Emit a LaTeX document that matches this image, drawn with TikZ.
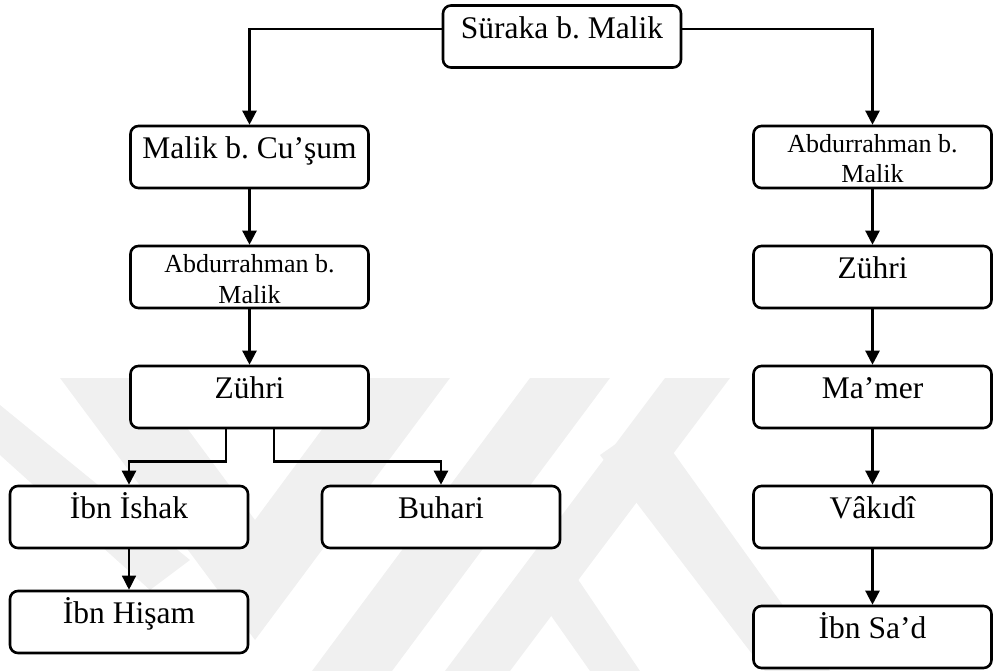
\documentclass[tikz,border=0pt]{standalone}
\usepackage{fontspec}
\setmainfont{Liberation Serif}
\usetikzlibrary{arrows.meta}
\frenchspacing

\tikzset{
  chainbox/.style={draw=black, fill=white, line width=2.6pt, rounded corners=8pt,
    minimum width=238pt, minimum height=62pt, inner sep=0pt},
  bigtext/.style={font=\fontsize{31.5}{36}\selectfont, anchor=base, inner sep=0pt},
  smalltext/.style={font=\fontsize{26}{30}\selectfont, anchor=base, inner sep=0pt},
  link/.style={line width=2.4pt, -{Triangle[width=14pt,length=14pt]}},
  thinlink/.style={line width=1.4pt, -{Triangle[width=14pt,length=14pt]}},
  watermark/.style={fill=black!6, draw=none}
}

\begin{document}
\begin{tikzpicture}[x=1pt, y=-1pt]
\useasboundingbox (0,0) rectangle (993,671);

% faint watermark bands behind the chart
\fill[watermark] (0,405) -- (0,455) -- (150,590) -- (190,560) -- cycle;
\fill[watermark] (60,378) -- (150,378) -- (255,520) -- (360,378) -- (450,378) -- (255,640) -- cycle;
\fill[watermark] (530,378) -- (610,378) -- (392,671) -- (312,671) -- cycle;
\fill[watermark] (665,378) -- (730,378) -- (510,671) -- (445,671) -- cycle;
\fill[watermark] (600,455) -- (650,420) -- (830,671) -- (765,671) -- cycle;
\fill[watermark] (540,600) -- (575,575) -- (640,671) -- (590,671) -- cycle;

% boxes
\node[chainbox] (sur)  at (562,36.5) {};
\node[chainbox] (mal)  at (249.5,157) {};
\node[chainbox] (abdL) at (249.5,277) {};
\node[chainbox] (zuhL) at (249.5,397) {};
\node[chainbox] (ish)  at (129,517) {};
\node[chainbox] (buh)  at (441,517) {};
\node[chainbox] (his)  at (129,622) {};
\node[chainbox] (abdR) at (872.5,157) {};
\node[chainbox] (zuhR) at (872.5,277) {};
\node[chainbox] (mam)  at (872.5,397) {};
\node[chainbox] (vak)  at (872.5,517) {};
\node[chainbox] (sad)  at (872.5,637) {};

% labels
\node[bigtext] (surT)  at (562,39) {Süraka b. Malik};
\node[bigtext] (malT)  at (249.5,159) {Malik b. Cu’şum};
\node[smalltext] (abdL1) at (249.5,272) {Abdurrahman b.};
\node[smalltext] (abdL2) at (249.5,303) {Malik};
\node[bigtext] (zuhLT) at (249.5,398) {Zühri};
\node[bigtext] (ishT)  at (129,518) {İbn İshak};
\node[bigtext] (buhT)  at (441,518) {Buhari};
\node[bigtext] (hisT)  at (129,623) {İbn Hişam};
\node[smalltext] (abdR1) at (872.5,153) {Abdurrahman b.};
\node[smalltext] (abdR2) at (872.5,183) {Malik};
\node[bigtext] (zuhRT) at (872.5,278) {Zühri};
\node[bigtext] (mamT)  at (872.5,398) {Ma’mer};
\node[bigtext] (vakT)  at (872.5,518) {Vâkıdî};
\node[bigtext] (sadT)  at (872.5,638) {İbn Sa’d};

% connectors
\draw[link] ([yshift=7.5pt]sur.west) -| (mal.north);
\draw[link] ([yshift=7.5pt]sur.east) -| (abdR.north);
\draw[link] (mal) -- (abdL);
\draw[link] (abdL) -- (zuhL);
\draw[link] ([xshift=-23.5pt]zuhL.south) -- ++(0,32) -| (ish.north);
\draw[link] ([xshift=24.5pt]zuhL.south) -- ++(0,32) -| (buh.north);
\draw[thinlink] (ish) -- (his);
\draw[link] (abdR) -- (zuhR);
\draw[link] (zuhR) -- (mam);
\draw[link] (mam) -- (vak);
\draw[link] (vak) -- (sad);
\end{tikzpicture}
\end{document}
